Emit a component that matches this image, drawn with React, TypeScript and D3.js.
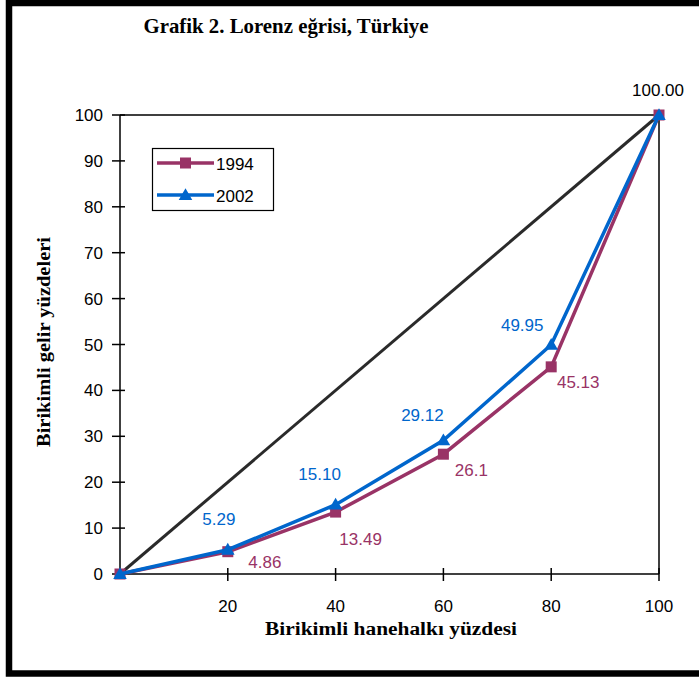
import React from "react";
import * as d3 from "d3";

// ---- data ----
const xValues = [0, 20, 40, 60, 80, 100];
const series1994 = [0, 4.86, 13.49, 26.1, 45.13, 100];
const series2002 = [0, 5.29, 15.1, 29.12, 49.95, 100];
const labels1994 = ["", "4.86", "13.49", "26.1", "45.13", ""];
const labels2002 = ["", "5.29", "15.10", "29.12", "49.95", "100.00"];
const equality = [0, 100];
const yTicks = [0, 10, 20, 30, 40, 50, 60, 70, 80, 90, 100];
const xTicks = [20, 40, 60, 80, 100];
const legendNames = ["1994", "2002"];

// ---- layout (label offsets relative to the point, in px) ----
const off1994 = [[0, 0], [37, 10], [25, 27], [28, 16], [27, 15], [0, 0]];
const off2002 = [[0, 0], [-9, -31], [-16, -31], [-21, -25], [-29, -20], [-1, -25]];

const C1994 = "#993366";
const C2002 = "#0066CC";
const SANS = "'Liberation Sans', Arial, sans-serif";
const SERIF = "'Liberation Serif', 'Times New Roman', serif";

export default function App() {
  const W = 699, H = 677;
  const x = d3.scaleLinear().domain([0, 100]).range([120, 659]);
  const y = d3.scaleLinear().domain([0, 100]).range([574, 115]);
  const line = d3
    .line<number>()
    .x((_, i) => x(xValues[i]))
    .y((d) => y(d));
  const diag = d3
    .line<number>()
    .x((d) => x(d))
    .y((d) => y(d));
  const tri = d3.symbol().type(d3.symbolTriangle).size(80)();

  const square = (cx: number, cy: number, k: string) => (
    <rect key={k} x={cx - 5.5} y={cy - 5.5} width={11} height={11} fill={C1994} />
  );
  const triangle = (cx: number, cy: number, k: string) => (
    <path key={k} d={tri || ""} transform={`translate(${cx},${cy + 1})`} fill={C2002} />
  );

  return (
    <svg
      width={W}
      height={H}
      style={{ position: "absolute", left: 0, top: 0, background: "#fff" }}
    >
      <rect x={0} y={0} width={W} height={H} fill="#fff" />
      {/* outer frame */}
      <rect x={9} y={3} width={W + 20} height={670.5} fill="none" stroke="#000" strokeWidth={6.5} />

      {/* title */}
      <text
        x={286}
        y={33}
        textAnchor="middle"
        fontFamily={SERIF}
        fontWeight="bold"
        fontSize={21}
        textLength={285}
        lengthAdjust="spacingAndGlyphs"
        fill="#000"
      >
        Grafik 2. Lorenz eğrisi, Türkiye
      </text>

      {/* plot frame: top and right */}
      <path
        d={`M${x(0)},${y(100)}H${x(100)}V${y(0)}`}
        fill="none"
        stroke="#000"
        strokeWidth={1.5}
      />
      {/* axes */}
      <line x1={x(0)} x2={x(0)} y1={y(0)} y2={y(100)} stroke="#000" strokeWidth={1.5} />
      <line x1={x(0)} x2={x(100)} y1={y(0)} y2={y(0)} stroke="#000" strokeWidth={1.5} />

      {yTicks.map((t) => (
        <g key={"y" + t}>
          <line x1={x(0) - 8} x2={x(0) + 5} y1={y(t)} y2={y(t)} stroke="#000" strokeWidth={1.5} />
          <text
            x={103}
            y={y(t) + 6}
            textAnchor="end"
            fontFamily={SANS}
            fontSize={17}
            fill="#000"
          >
            {t}
          </text>
        </g>
      ))}
      {xTicks.map((t) => (
        <g key={"x" + t}>
          <line x1={x(t)} x2={x(t)} y1={y(0) - 6} y2={y(0) + 7} stroke="#000" strokeWidth={1.5} />
          <text
            x={x(t)}
            y={612}
            textAnchor="middle"
            fontFamily={SANS}
            fontSize={17}
            fill="#000"
          >
            {t}
          </text>
        </g>
      ))}

      {/* axis titles */}
      <text
        x={391}
        y={635}
        textAnchor="middle"
        fontFamily={SERIF}
        fontWeight="bold"
        fontSize={18}
        textLength={252}
        lengthAdjust="spacingAndGlyphs"
        fill="#000"
      >
        Birikimli hanehalkı yüzdesi
      </text>
      <text
        transform="translate(50,342) rotate(-90)"
        textAnchor="middle"
        fontFamily={SERIF}
        fontWeight="bold"
        fontSize={18}
        textLength={210}
        lengthAdjust="spacingAndGlyphs"
        fill="#000"
      >
        Birikimli gelir yüzdeleri
      </text>

      {/* equality line */}
      <path d={diag(equality) || ""} fill="none" stroke="#2a2a2a" strokeWidth={3} />

      {/* 1994 */}
      <path d={line(series1994) || ""} fill="none" stroke={C1994} strokeWidth={3.5} />
      {series1994.map((v, i) => square(x(xValues[i]), y(v), "s" + i))}

      {/* 2002 */}
      <path d={line(series2002) || ""} fill="none" stroke={C2002} strokeWidth={3.5} />
      {series2002.map((v, i) => triangle(x(xValues[i]), y(v), "t" + i))}

      {/* data labels */}
      {series1994.map((v, i) =>
        labels1994[i] ? (
          <text
            key={"l94" + i}
            x={x(xValues[i]) + off1994[i][0]}
            y={y(v) + off1994[i][1] + 6}
            textAnchor="middle"
            fontFamily={SANS}
            fontSize={17}
            fill={C1994}
          >
            {labels1994[i]}
          </text>
        ) : null
      )}
      {series2002.map((v, i) =>
        labels2002[i] ? (
          <text
            key={"l02" + i}
            x={x(xValues[i]) + off2002[i][0]}
            y={y(v) + off2002[i][1] + 6}
            textAnchor="middle"
            fontFamily={SANS}
            fontSize={17}
            fill={i === series2002.length - 1 ? "#000" : C2002}
          >
            {labels2002[i]}
          </text>
        ) : null
      )}

      {/* legend */}
      <rect x={152.5} y={148.5} width={121} height={62} fill="#fff" stroke="#000" strokeWidth={1.2} />
      {legendNames.map((n, i) => {
        const ly = 163 + i * 32;
        const col = i === 0 ? C1994 : C2002;
        return (
          <g key={n}>
            <line x1={157} x2={214} y1={ly} y2={ly} stroke={col} strokeWidth={3.5} />
            {i === 0 ? square(185.5, ly, "ls") : triangle(185.5, ly, "lt")}
            <text x={216} y={ly + 7} fontFamily={SANS} fontSize={17} fill="#000">
              {n}
            </text>
          </g>
        );
      })}
    </svg>
  );
}
